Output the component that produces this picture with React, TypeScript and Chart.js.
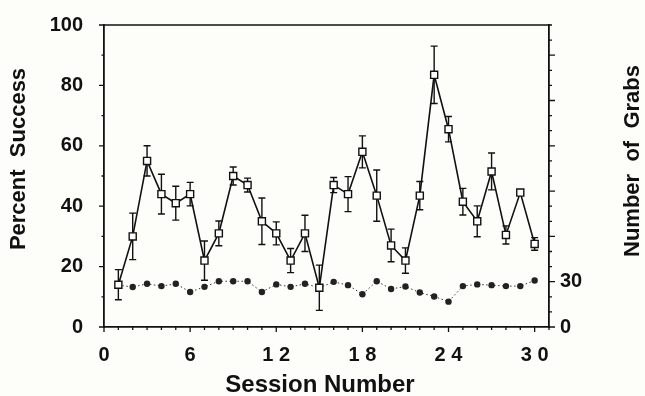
import React, { useEffect, useRef } from 'react';
import { Chart, registerables } from 'chart.js';

Chart.register(...registerables);

const sessions = [1, 2, 3, 4, 5, 6, 7, 8, 9, 10, 11, 12, 13, 14, 15, 16, 17, 18, 19, 20, 21, 22, 23, 24, 25, 26, 27, 28, 29, 30];
const percentSuccess = [14, 30, 55, 44, 41, 44, 22, 31, 50, 47, 35, 31, 22, 31, 13, 47, 44, 58, 43.5, 27, 22, 43.5, 83.5, 65.5, 41.5, 35, 51.5, 30.5, 44.5, 27.5];
const percentError = [5, 7.7, 5, 6.6, 5.6, 3.9, 6.5, 4.1, 3, 2.3, 7.7, 3.8, 4, 6, 7.5, 2.5, 5.8, 5.3, 8.5, 5.4, 4.2, 4.7, 9.5, 4.2, 4.4, 5.1, 6.1, 3, 0.5, 2.1];
const grabs = [27.7, 26.5, 28.6, 27.1, 28.6, 23.2, 26.6, 30.3, 30.3, 30.3, 23.2, 28.2, 26.6, 28.6, 26, 29.9, 27.7, 21.7, 30.3, 25.2, 26.8, 22.8, 20.2, 16.8, 27.1, 28.2, 27.7, 27.1, 27.1, 30.8];

const xTickValues = [0, 6, 12, 18, 24, 30];
const xTickLabels = ['0', '6', '1 2', '1 8', '2 4', '3 0'];
const yTickValues = [0, 20, 40, 60, 80, 100];
const y2TickValues = [0, 30];
const y2TickLabels = ['0', '30'];

const xTitle = 'Session Number';
const yTitle = 'Percent  Success';
const y2Title = 'Number  of  Grabs';

const FONT = "'Liberation Sans', Arial, Helvetica, sans-serif";
const INK = '#111';

const decor = {
  id: 'decor',
  beforeDatasetsDraw(chart: any) {
    const { ctx } = chart;
    const xs = chart.scales.x;
    const ys = chart.scales.y;
    ctx.save();
    ctx.strokeStyle = INK;
    ctx.lineWidth = 1.4;
    sessions.forEach((s, i) => {
      const x = xs.getPixelForValue(s);
      const yt = ys.getPixelForValue(percentSuccess[i] + percentError[i]);
      const yb = ys.getPixelForValue(percentSuccess[i] - percentError[i]);
      ctx.beginPath();
      ctx.moveTo(x, yt);
      ctx.lineTo(x, yb);
      ctx.moveTo(x - 3.5, yt);
      ctx.lineTo(x + 3.5, yt);
      ctx.moveTo(x - 3.5, yb);
      ctx.lineTo(x + 3.5, yb);
      ctx.stroke();
    });
    ctx.restore();
  },
  afterDraw(chart: any) {
    const { ctx, chartArea } = chart;
    const xs = chart.scales.x;
    const ys = chart.scales.y;
    const y2 = chart.scales.y2;
    ctx.save();
    ctx.strokeStyle = INK;
    ctx.lineWidth = 1.5;
    ctx.beginPath();
    ctx.moveTo(chartArea.left, chartArea.top);
    ctx.lineTo(chartArea.right, chartArea.top);
    ctx.stroke();
    ctx.lineWidth = 1.3;
    ctx.beginPath();
    for (let v = 0; v <= 100; v += 10) {
      const y = ys.getPixelForValue(v);
      const len = v % 20 === 0 ? 5 : 2.5;
      ctx.moveTo(chartArea.left, y);
      ctx.lineTo(chartArea.left - len, y);
    }
    for (let v = 0; v <= 31; v += 1) {
      const x = xs.getPixelForValue(v);
      const len = v % 6 === 0 ? 5 : 3;
      ctx.moveTo(x, chartArea.bottom);
      ctx.lineTo(x, chartArea.bottom + len);
    }
    for (let v = 0; v <= 200; v += 10) {
      const y = y2.getPixelForValue(v);
      const len = v % 30 === 0 ? 6 : 3;
      ctx.moveTo(chartArea.right, y);
      ctx.lineTo(chartArea.right + len, y);
    }
    ctx.stroke();

    ctx.fillStyle = INK;
    ctx.textAlign = 'center';
    ctx.textBaseline = 'middle';
    ctx.font = `bold 24px ${FONT}`;
    ctx.fillText(xTitle, 320, 385);
    ctx.font = `bold 22px ${FONT}`;
    ctx.save();
    ctx.translate(19, 159);
    ctx.rotate(-Math.PI / 2);
    ctx.fillText(yTitle, 0, 0);
    ctx.restore();
    ctx.save();
    ctx.translate(633, 161);
    ctx.rotate(-Math.PI / 2);
    ctx.fillText(y2Title, 0, 0);
    ctx.restore();
    ctx.restore();
  },
};

export default function App() {
  const ref = useRef<HTMLCanvasElement | null>(null);

  useEffect(() => {
    if (!ref.current) return;
    const tickFont = { family: FONT, size: 20, weight: 'bold' as const };
    const chart = new Chart(ref.current, {
      type: 'line',
      data: {
        datasets: [
          {
            label: 'Percent Success',
            data: sessions.map((s, i) => ({ x: s, y: percentSuccess[i] })),
            yAxisID: 'y',
            borderColor: INK,
            borderWidth: 1.6,
            pointStyle: 'rect',
            pointRadius: 5,
            pointBackgroundColor: '#fff',
            pointBorderColor: INK,
            pointBorderWidth: 1.4,
            tension: 0,
          },
          {
            label: 'Number of Grabs',
            data: sessions.map((s, i) => ({ x: s, y: grabs[i] })),
            yAxisID: 'y2',
            borderColor: '#333',
            borderWidth: 1,
            borderDash: [1.5, 2.5],
            pointStyle: 'circle',
            pointRadius: 3.2,
            pointBackgroundColor: '#222',
            pointBorderWidth: 0,
            tension: 0,
          },
        ],
      },
      options: {
        animation: false,
        responsive: true,
        maintainAspectRatio: false,
        layout: { padding: { top: 17, left: 0, right: 0, bottom: 0 } },
        plugins: { legend: { display: false }, tooltip: { enabled: false } },
        scales: {
          x: {
            type: 'linear',
            position: 'bottom',
            min: 0,
            max: 31,
            afterFit: (s: any) => { s.height = 69; },
            afterBuildTicks: (s: any) => { s.ticks = xTickValues.map((v) => ({ value: v })); },
            ticks: {
              font: tickFont,
              color: INK,
              padding: 8,
              maxRotation: 0,
              autoSkip: false,
              callback: (v: any) => xTickLabels[xTickValues.indexOf(Number(v))] ?? '',
            },
            grid: { display: false },
            border: { display: true, color: INK, width: 1.8 },
          },
          y: {
            type: 'linear',
            position: 'left',
            min: 0,
            max: 100,
            afterFit: (s: any) => { s.width = 104; },
            afterBuildTicks: (s: any) => { s.ticks = yTickValues.map((v) => ({ value: v })); },
            ticks: { font: tickFont, color: INK, padding: 13 },
            grid: { display: false },
            border: { display: true, color: INK, width: 1.8 },
          },
          y2: {
            type: 'linear',
            position: 'right',
            min: 0,
            max: 200,
            afterFit: (s: any) => { s.width = 96; },
            afterBuildTicks: (s: any) => { s.ticks = y2TickValues.map((v) => ({ value: v })); },
            ticks: {
              font: tickFont,
              color: INK,
              padding: 3,
              callback: (v: any) => y2TickLabels[y2TickValues.indexOf(Number(v))] ?? '',
            },
            grid: { display: false },
            border: { display: true, color: INK, width: 1.8 },
          },
        },
      },
      plugins: [decor],
    });
    return () => chart.destroy();
  }, []);

  return (
    <div style={{ position: 'fixed', left: 0, top: 0, width: 645, height: 396, background: '#fdfdfa' }}>
      <canvas ref={ref} />
    </div>
  );
}
